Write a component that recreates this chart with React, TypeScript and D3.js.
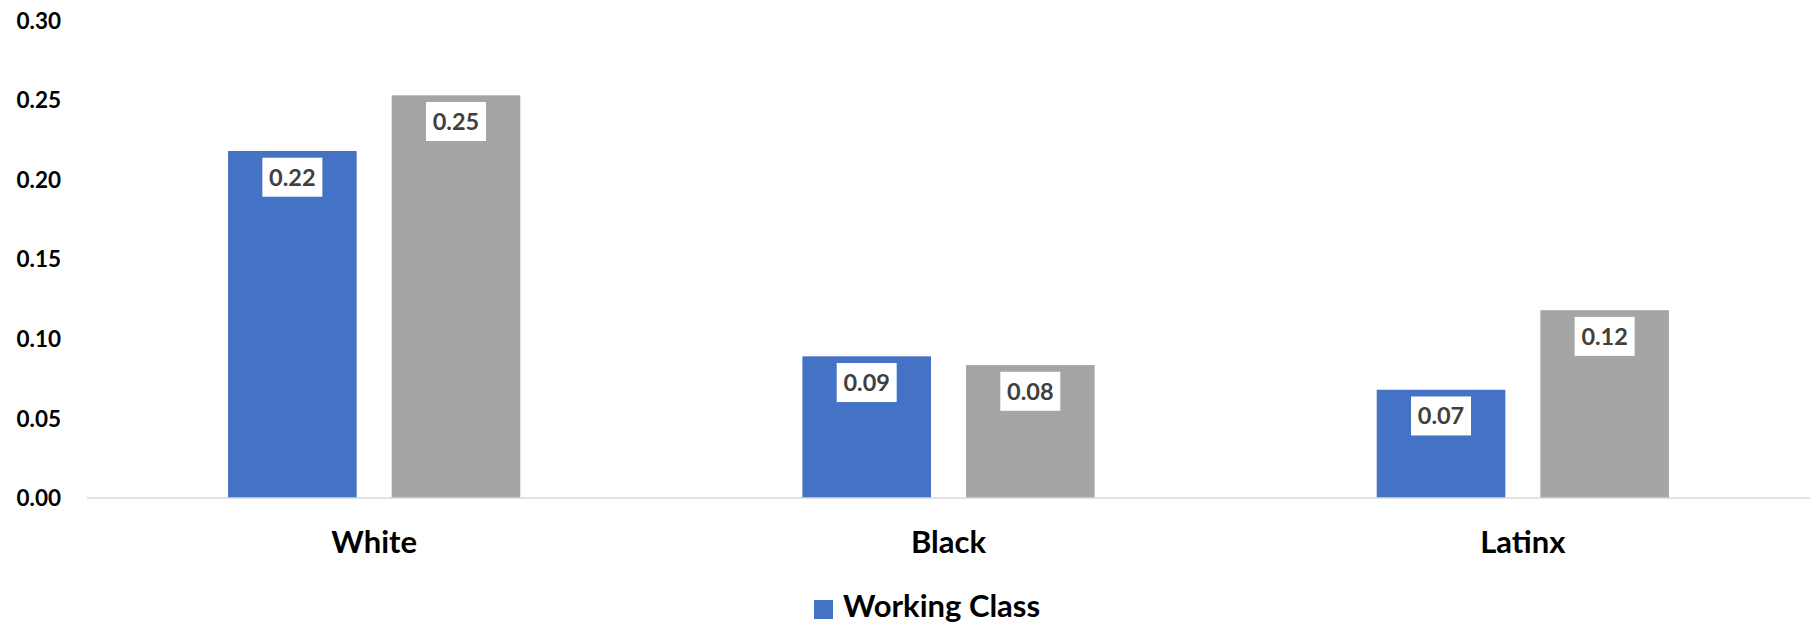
import React from "react";
import * as d3 from "d3";

const categories = ["White", "Black", "Latinx"];
const seriesNames = ["Working Class", "Other"];
const workingClass = [0.218, 0.089, 0.068];
const other = [0.253, 0.0835, 0.118];
const yTicks = [0, 0.05, 0.1, 0.15, 0.2, 0.25, 0.3];
const colors = ["#4472C4", "#A5A5A5"];

const W = 1814;
const H = 628;
const FONT = "Lato, 'Open Sans', sans-serif";

export default function App() {
  const x = d3.scaleBand<string>().domain(categories).range([87, 1810]).padding(0);
  const bw = x.bandwidth();
  const inner = d3
    .scaleBand<string>()
    .domain(seriesNames)
    .range([bw * 0.2456, bw * 0.7544])
    .paddingInner(0.214)
    .paddingOuter(0);
  const y = d3.scaleLinear().domain([0, 0.3]).range([498, 20.5]);
  const series = [workingClass, other];

  return (
    <svg
      width={W}
      height={H}
      style={{ position: "absolute", left: 0, top: 0, background: "#fff" }}
      fontFamily={FONT}
    >
      {yTicks.map((t) => (
        <text
          key={t}
          x={61}
          y={y(t)}
          dy="0.36em"
          textAnchor="end"
          fontSize={22.5}
          fontWeight="bold"
          fill="#000"
        >
          {d3.format(".2f")(t)}
        </text>
      ))}
      {categories.map((c, ci) =>
        series.map((vals, si) => {
          const bx = (x(c) as number) + (inner(seriesNames[si]) as number);
          const top = y(vals[ci]);
          const cx = bx + inner.bandwidth() / 2;
          return (
            <g key={c + si}>
              <rect
                x={bx}
                y={top}
                width={inner.bandwidth()}
                height={y(0) - top}
                fill={colors[si]}
              />
              <rect x={cx - 30} y={top + 6.7} width={60} height={39} fill="#fff" />
              <text
                x={cx}
                y={top + 6.7 + 19.5}
                dy="0.36em"
                textAnchor="middle"
                fontSize={23.5}
                fontWeight="bold"
                fill="#404040"
              >
                {d3.format(".2f")(vals[ci])}
              </text>
            </g>
          );
        })
      )}
      <line x1={87} x2={1810} y1={y(0)} y2={y(0)} stroke="#D9D9D9" strokeWidth={1.5} />
      {categories.map((c) => (
        <text
          key={c}
          x={(x(c) as number) + bw / 2}
          y={553}
          textAnchor="middle"
          fontSize={31}
          fontWeight="bold"
          fill="#000"
        >
          {c}
        </text>
      ))}
      <rect x={814} y={600} width={19} height={19} fill={colors[0]} />
      <text x={843} y={617} fontSize={31} fontWeight="bold" fill="#000">
        {seriesNames[0]}
      </text>
    </svg>
  );
}
